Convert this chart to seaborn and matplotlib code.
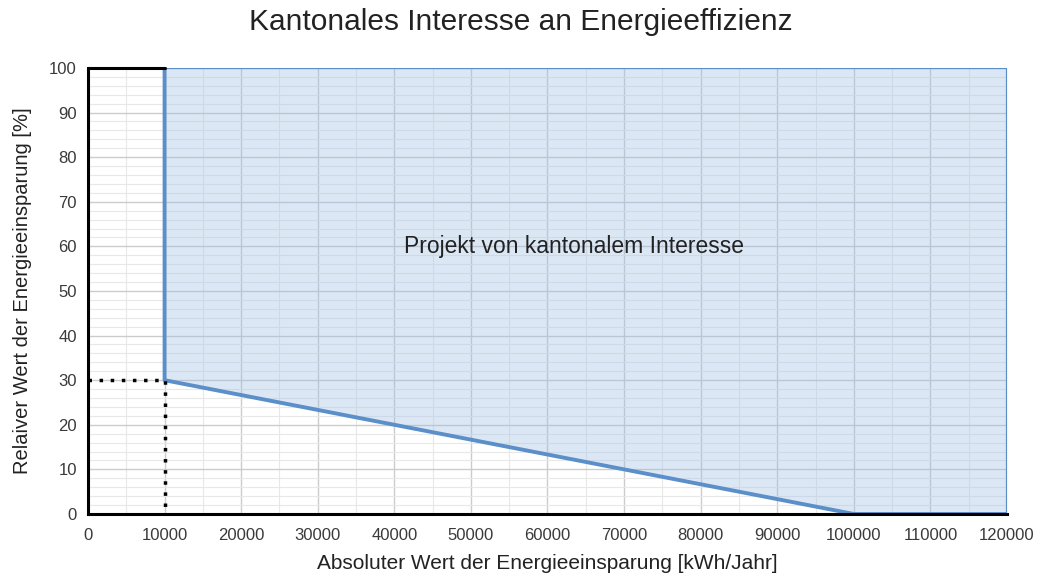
import numpy as np
import pandas as pd
import matplotlib.pyplot as plt
import seaborn as sns
from matplotlib.ticker import MultipleLocator

# boundary of the "kantonales Interesse" region
grenze_x = [10000, 10000, 100000, 120000]
grenze_y = [100, 30, 0, 0]
# dotted guide lines at the 10000 / 30 % point
hilfs_x = [0, 10000, 10000]
hilfs_y = [30, 30, 0]

x_ticks = list(range(0, 120001, 10000))
y_ticks = list(range(0, 101, 10))

sns.set_theme(style="whitegrid")
plt.rcParams['font.family'] = ['Liberation Sans', 'DejaVu Sans']

fig = plt.figure(figsize=(10.45, 5.85), dpi=100)
ax = fig.add_axes([0.0842, 0.1214, 0.8794, 0.7624])

# fill area above boundary (semi transparent so grid shows through)
ax.fill_between(grenze_x, grenze_y, 100, color="#9dbde3", alpha=0.35, linewidth=0, zorder=2)

df = pd.DataFrame({"x": grenze_x, "y": grenze_y})
sns.lineplot(data=df, x="x", y="y", sort=False, estimator=None, color="#5b8fc9",
             linewidth=2.8, ax=ax, zorder=4)
ax.plot([10000, 120000, 120000], [100, 100, 0], color="#5b8fc9", linewidth=1.6, zorder=4)

ax.plot(hilfs_x, hilfs_y, color="black", linestyle=(0, (1, 2.2)), linewidth=2.5, zorder=5)

ax.text(63500, 60, "Projekt von kantonalem Interesse", fontsize=16.5, ha="center", va="center", color="#222222")

ax.set_xlim(0, 120000)
ax.set_ylim(0, 100)
ax.set_xticks(x_ticks)
ax.set_yticks(y_ticks)
ax.xaxis.set_minor_locator(MultipleLocator(5000))
ax.yaxis.set_minor_locator(MultipleLocator(2))
ax.grid(which="major", color="#cccccc", linewidth=1.0, zorder=0)
ax.grid(which="minor", color="#e8e8e8", linewidth=0.8, zorder=0)
ax.set_axisbelow(True)

for s in ["left", "bottom"]:
    ax.spines[s].set_color("black")
    ax.spines[s].set_linewidth(2.2)
    ax.spines[s].set_zorder(6)
ax.spines["right"].set_visible(False)
ax.spines["top"].set_visible(False)
ax.plot([0, 10000], [100, 100], color="black", linewidth=2.2, zorder=5, clip_on=False)

ax.tick_params(axis="both", labelsize=12, colors="#3a3a3a", length=0)
ax.tick_params(axis="x", pad=10)
ax.tick_params(axis="y", pad=8)
ax.set_xlabel("Absoluter Wert der Energieeinsparung [kWh/Jahr]", fontsize=15, color="#222222", labelpad=8)
ax.set_ylabel("Relaiver Wert der Energieeinsparung [%]", fontsize=14.5, color="#222222", labelpad=12)
fig.text(0.4986, 0.962, "Kantonales Interesse an Energieeffizienz", fontsize=21.5,
         color="#222222", ha="center", va="center")

fig.savefig("out.png", dpi=100)
